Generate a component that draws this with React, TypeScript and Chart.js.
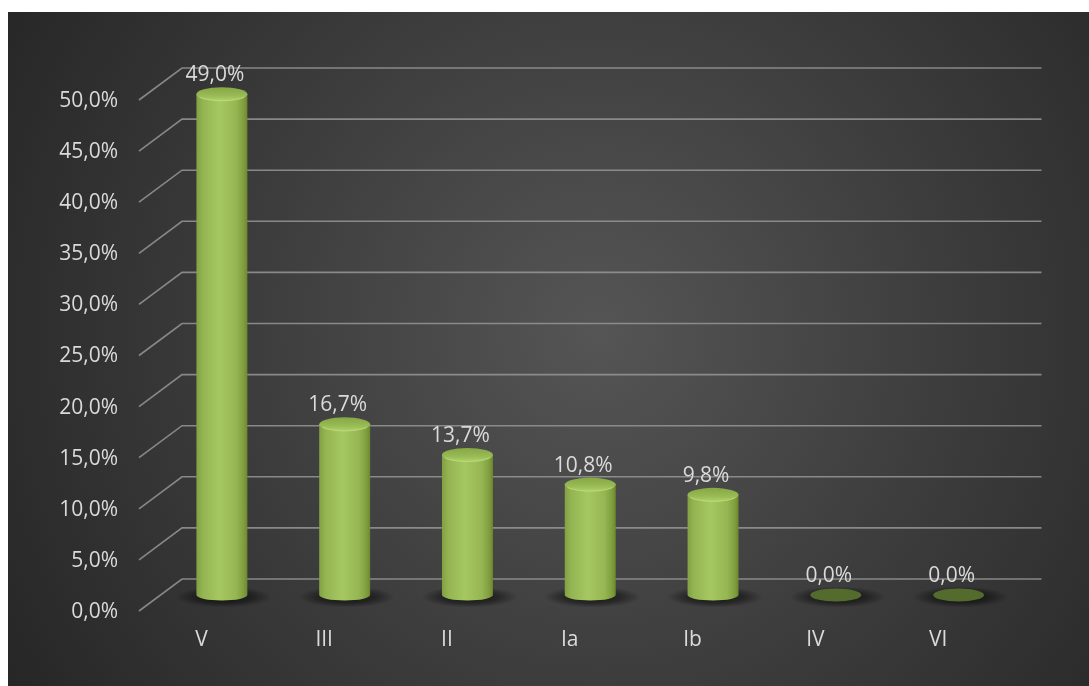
import React, { useEffect, useRef } from "react";
import { Chart, registerables } from "chart.js";

Chart.register(...registerables);

const categories = ["V", "III", "II", "Ia", "Ib", "IV", "VI"];
const values = [49.0, 16.7, 13.7, 10.8, 9.8, 0.0, 0.0];
const yTickValues = [0, 5, 10, 15, 20, 25, 30, 35, 40, 45, 50];

const W = 1081;
const H = 674;
const DX = 21.5;
const DY = 16;
const FONT = "21px 'Open Sans', 'Noto Sans', sans-serif";
const TEXT = "#dadada";

const fmt = (v: number) => v.toFixed(1).replace(".", ",") + "%";

const cylinderPlugin = {
  id: "cyl3d",
  beforeDraw(chart: any) {
    const ctx = chart.ctx as CanvasRenderingContext2D;
    ctx.save();
    const g = ctx.createRadialGradient(590, 320, 0, 590, 320, 720);
    g.addColorStop(0, "#555555");
    g.addColorStop(0.5, "#3c3c3c");
    g.addColorStop(1, "#242424");
    ctx.fillStyle = g;
    ctx.fillRect(0, 0, chart.width, chart.height);
    ctx.restore();
  },
  beforeDatasetsDraw(chart: any) {
    const ctx = chart.ctx as CanvasRenderingContext2D;
    const y = chart.scales.y;
    const area = chart.chartArea;
    ctx.save();
    ctx.strokeStyle = "rgba(150,150,150,0.85)";
    ctx.lineWidth = 1.6;
    for (const t of yTickValues) {
      const py = y.getPixelForValue(t);
      ctx.beginPath();
      ctx.moveTo(area.left - DX, py + DY);
      ctx.lineTo(area.left + DX, py - DY);
      ctx.lineTo(area.right + DX, py - DY);
      ctx.stroke();
    }
    ctx.fillStyle = TEXT;
    ctx.font = FONT;
    ctx.textAlign = "right";
    ctx.textBaseline = "middle";
    for (const t of yTickValues) {
      const py = y.getPixelForValue(t);
      ctx.fillText(fmt(t), area.left - DX - 21, py + DY + 1);
    }
    ctx.restore();
  },
  afterDatasetsDraw(chart: any) {
    const ctx = chart.ctx as CanvasRenderingContext2D;
    const meta = chart.getDatasetMeta(0);
    const xs = chart.scales.x;
    const area = chart.chartArea;
    ctx.save();
    meta.data.forEach((bar: any, i: number) => {
      const cx = bar.x;
      const top = bar.y;
      const base = bar.base;
      const w = bar.width;
      const rx = w / 2;
      const ry = 7;
      // shadow
      ctx.save();
      ctx.translate(cx + 2, base + 2);
      ctx.scale(1, 0.22);
      const sg = ctx.createRadialGradient(0, 0, 0, 0, 0, 48);
      sg.addColorStop(0, "rgba(0,0,0,0.7)");
      sg.addColorStop(0.6, "rgba(0,0,0,0.4)");
      sg.addColorStop(1, "rgba(0,0,0,0)");
      ctx.fillStyle = sg;
      ctx.beginPath();
      ctx.arc(0, 0, 48, 0, Math.PI * 2);
      ctx.fill();
      ctx.restore();

      if (values[i] <= 0) {
        ctx.fillStyle = "#536b2d";
        ctx.beginPath();
        ctx.ellipse(cx, base, rx, 6.5, 0, 0, Math.PI * 2);
        ctx.fill();
        return;
      }
      // body
      const bg = ctx.createLinearGradient(cx - rx, 0, cx + rx, 0);
      bg.addColorStop(0, "#82a043");
      bg.addColorStop(0.12, "#93b451");
      bg.addColorStop(0.45, "#a6c862");
      bg.addColorStop(0.78, "#95b652");
      bg.addColorStop(0.93, "#7f9d3d");
      bg.addColorStop(1, "#6c8830");
      ctx.fillStyle = bg;
      ctx.beginPath();
      ctx.moveTo(cx - rx, top);
      ctx.lineTo(cx - rx, base);
      ctx.ellipse(cx, base, rx, 5.5, 0, Math.PI, 0, true);
      ctx.lineTo(cx + rx, top);
      ctx.closePath();
      ctx.fill();
      // top
      const tg = ctx.createLinearGradient(0, top - ry, 0, top + ry);
      tg.addColorStop(0, "#86a745");
      tg.addColorStop(0.6, "#98bb55");
      tg.addColorStop(1, "#b2d26c");
      ctx.fillStyle = tg;
      ctx.beginPath();
      ctx.ellipse(cx, top, rx, ry, 0, 0, Math.PI * 2);
      ctx.fill();
      ctx.strokeStyle = "rgba(195,225,125,0.6)";
      ctx.lineWidth = 1;
      ctx.beginPath();
      ctx.ellipse(cx, top, rx - 0.5, ry - 0.5, 0, 0.15 * Math.PI, 0.85 * Math.PI);
      ctx.stroke();
    });
    // data labels
    ctx.fillStyle = TEXT;
    ctx.font = FONT;
    ctx.textAlign = "center";
    ctx.textBaseline = "middle";
    meta.data.forEach((bar: any, i: number) => {
      ctx.fillText(fmt(values[i]), bar.x - 7, bar.y - 19);
    });
    // category labels
    categories.forEach((c, i) => {
      const px = xs.getPixelForValue(i);
      ctx.fillText(c, px - DX + 1, area.bottom + 45);
    });
    ctx.restore();
  },
};

export default function App() {
  const ref = useRef<HTMLCanvasElement | null>(null);
  useEffect(() => {
    if (!ref.current) return;
    const chart = new Chart(ref.current, {
      type: "bar",
      data: {
        labels: categories,
        datasets: [
          {
            data: values,
            backgroundColor: "rgba(0,0,0,0)",
            borderWidth: 0,
            categoryPercentage: 1,
            barPercentage: 0.415,
          },
        ],
      },
      options: {
        responsive: false,
        animation: false,
        devicePixelRatio: 1,
        layout: { padding: { left: 152.5, right: 69, top: 72, bottom: 91 } },
        plugins: { legend: { display: false }, tooltip: { enabled: false } },
        scales: {
          x: { display: false, offset: true },
          y: { display: false, min: 0, max: 50, ticks: { stepSize: 5 } },
        },
      },
      plugins: [cylinderPlugin],
    } as any);
    return () => chart.destroy();
  }, []);
  return (
    <div style={{ position: "fixed", left: 8, top: 12, width: W, height: H }}>
      <canvas ref={ref} width={W} height={H} style={{ display: "block", width: W, height: H }} />
    </div>
  );
}
